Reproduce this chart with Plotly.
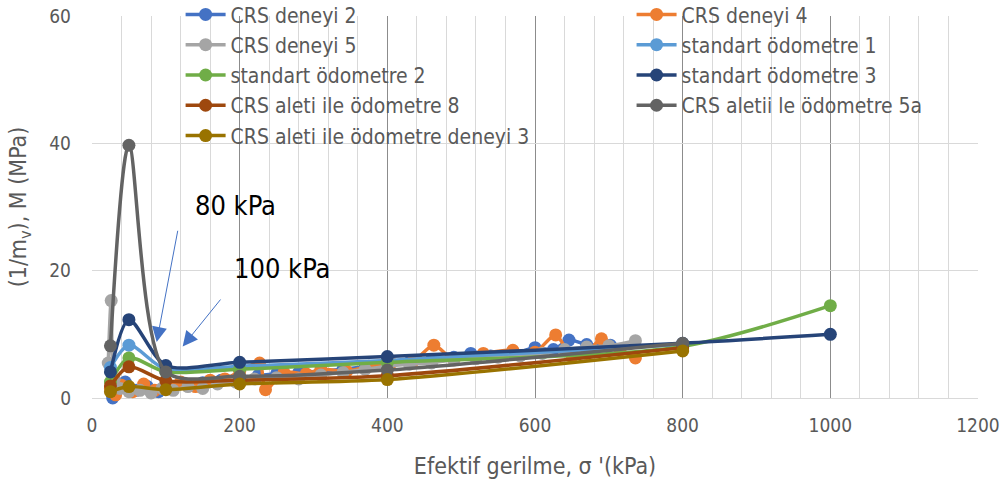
import plotly.graph_objects as go

# ---------------- data ----------------
crs2_x = [28, 35, 45, 60, 75, 90, 110, 130, 150, 175, 200, 225, 250, 280, 310, 340, 370, 400, 430, 460, 490, 513, 540, 570, 600, 625, 646, 670, 702]
crs2_y = [0.0, 1.5, 2.5, 1.2, 1.8, 1.0, 1.6, 2.0, 2.4, 2.8, 3.0, 3.5, 3.8, 4.0, 4.2, 4.5, 4.9, 5.2, 5.6, 6.0, 6.4, 7.0, 6.6, 6.9, 7.9, 7.6, 9.1, 8.4, 8.3]

crs4_x = [25, 32, 40, 55, 70, 85, 100, 120, 140, 160, 180, 200, 227, 235, 260, 290, 310, 345, 375, 405, 435, 463, 490, 530, 570, 600, 628, 650, 670, 690, 715, 736]
crs4_y = [1.5, 0.5, 2.0, 1.0, 2.2, 1.2, 2.0, 2.5, 1.8, 2.8, 3.0, 4.2, 5.5, 1.3, 4.0, 3.8, 4.5, 4.2, 5.0, 5.5, 5.8, 8.3, 6.0, 7.0, 7.5, 7.2, 9.9, 6.5, 7.0, 9.3, 7.5, 6.3]

crs5_x = [22, 26, 30, 38, 50, 65, 80, 95, 110, 130, 150, 170, 195, 220, 250, 280, 310, 340, 370, 400, 430, 460, 490, 520, 550, 580, 610, 640, 670, 700, 736]
crs5_y = [5.5, 15.3, 3.0, 1.5, 1.0, 1.2, 0.8, 1.5, 1.2, 1.8, 1.5, 2.2, 2.5, 3.0, 3.2, 3.0, 3.6, 4.0, 4.5, 5.0, 5.3, 5.5, 6.0, 6.2, 6.4, 6.6, 7.0, 7.6, 8.0, 8.2, 9.0]

std1_x = [25, 50, 100, 200, 400, 800]
std1_y = [4.8, 8.3, 4.5, 5.0, 5.9, 8.4]

std2_x = [25, 50, 100, 200, 400, 800, 1000]
std2_y = [2.5, 6.3, 4.1, 4.5, 5.6, 8.1, 14.5]

std3_x = [25, 50, 100, 200, 400, 800, 1000]
std3_y = [4.1, 12.3, 5.1, 5.6, 6.5, 8.6, 10.0]

crs8_x = [25, 50, 100, 200, 400, 800]
crs8_y = [1.9, 4.9, 2.7, 2.8, 3.5, 7.9]

crs5a_x = [25, 50, 100, 200, 400, 800]
crs5a_y = [8.2, 39.7, 4.1, 3.4, 4.4, 8.6]

crs3_x = [25, 50, 100, 200, 400, 800]
crs3_y = [1.0, 1.8, 1.3, 2.2, 2.9, 7.4]

series = [
    ("CRS deneyi 2", crs2_x, crs2_y, "#4472C4", "legend"),
    ("CRS deneyi 4", crs4_x, crs4_y, "#ED7D31", "legend2"),
    ("CRS deneyi 5", crs5_x, crs5_y, "#A5A5A5", "legend"),
    ("standart ödometre 1", std1_x, std1_y, "#5B9BD5", "legend2"),
    ("standart ödometre 2", std2_x, std2_y, "#70AD47", "legend"),
    ("standart ödometre 3", std3_x, std3_y, "#264478", "legend2"),
    ("CRS aleti ile ödometre 8", crs8_x, crs8_y, "#9E480E", "legend"),
    ("CRS aletii le ödometre 5a", crs5a_x, crs5a_y, "#636363", "legend2"),
    ("CRS aleti ile ödometre deneyi 3", crs3_x, crs3_y, "#997300", "legend"),
]

FONT = "Liberation Sans Narrow, DejaVu Sans Condensed, Arial Narrow, sans-serif"
GRAY = "#595959"

fig = go.Figure()
for name, xs, ys, col, lg in series:
    fig.add_trace(go.Scatter(
        x=xs, y=ys, name=name, mode="lines+markers",
        line=dict(color=col, width=3.5, shape="spline", smoothing=0.8),
        marker=dict(color=col, size=13),
        cliponaxis=False, legend=lg,
    ))

# annotations: labels and arrows
fig.add_annotation(x=194, y=30.3, xref="x", yref="y", text="80 kPa", showarrow=False,
                   font=dict(family=FONT, size=27, color="#000000"))
fig.add_annotation(x=257, y=20.4, xref="x", yref="y", text="100 kPa", showarrow=False,
                   font=dict(family=FONT, size=27, color="#000000"))
fig.add_annotation(x=87.6, y=8.8, ax=116.5, ay=26.5, xref="x", yref="y", axref="x", ayref="y",
                   text="", showarrow=True, arrowhead=2, arrowsize=3, arrowwidth=1,
                   arrowcolor="#4472C4")
fig.add_annotation(x=122.8, y=8.1, ax=175.7, ay=15.7, xref="x", yref="y", axref="x", ayref="y",
                   text="", showarrow=True, arrowhead=2, arrowsize=3, arrowwidth=1,
                   arrowcolor="#4472C4")

fig.update_layout(
    width=1008, height=485,
    margin=dict(l=92, r=30, t=16, b=87, autoexpand=False),
    paper_bgcolor="white", plot_bgcolor="white",
    font=dict(family=FONT, size=18, color=GRAY),
    legend=dict(x=0.100, y=1.057, xanchor="left", yanchor="top", bgcolor="rgba(0,0,0,0)",
                font=dict(family=FONT, size=21, color=GRAY), tracegroupgap=0,
                itemwidth=40),
    legend2=dict(x=0.609, y=1.057, xanchor="left", yanchor="top", bgcolor="rgba(0,0,0,0)",
                 font=dict(family=FONT, size=21, color=GRAY), tracegroupgap=0,
                 itemwidth=40),
    showlegend=True,
)
fig.update_xaxes(
    range=[0, 1200], dtick=200, tick0=0,
    showgrid=True, gridcolor="#8c8c8c", gridwidth=1.3,
    minor=dict(dtick=40, showgrid=True, gridcolor="#d9d9d9", gridwidth=1.3),
    zeroline=False, showline=False,
    ticks="", ticklabelstandoff=14, tickfont=dict(family=FONT, size=19, color=GRAY),
    title=dict(text="Efektif gerilme, σ '(kPa)", font=dict(family=FONT, size=23, color=GRAY), standoff=22),
)
fig.update_yaxes(
    range=[0, 60], dtick=20, tick0=0,
    showgrid=True, gridcolor="#d9d9d9", gridwidth=1.3,
    zeroline=True, zerolinecolor="#d9d9d9", zerolinewidth=1.3,
    showline=False, ticks="", ticklabelstandoff=20,
    tickfont=dict(family=FONT, size=19, color=GRAY),
    title=dict(text="(1/m<sub>v</sub>), M (MPa)", font=dict(family=FONT, size=23, color=GRAY), standoff=16),
)

fig.write_html("out.html")
